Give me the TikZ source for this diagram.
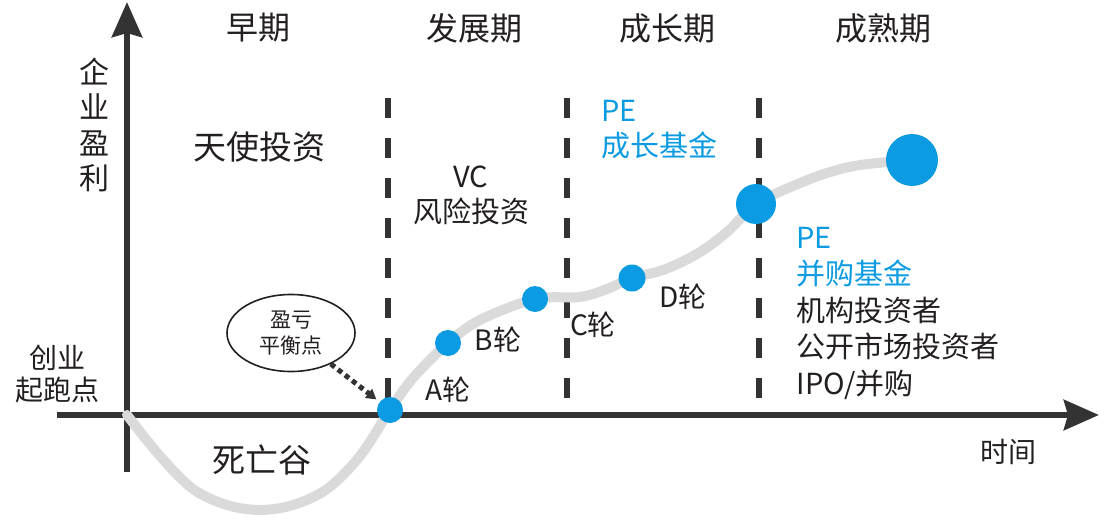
\documentclass[tikz,border=0pt]{standalone}
\usepackage{fontspec}
\setmainfont{Noto Sans CJK SC}
\usetikzlibrary{positioning, arrows.meta, shapes.geometric}

\definecolor{axisgray}{HTML}{333333}
\definecolor{curvegray}{HTML}{DADADA}
\definecolor{dotblue}{HTML}{0A9BE2}
\definecolor{inkblack}{HTML}{231F20}

\begin{document}
\begin{tikzpicture}[
    x=1pt, y=-1pt,
    axis/.style={-{Stealth[length=35pt, width=30pt, inset=4pt]}, line width=6.5pt, draw=axisgray},
    divider/.style={line width=6pt, draw=axisgray, dash pattern=on 20pt off 20pt, dash phase=24pt},
    curve/.style={line width=10pt, draw=curvegray, line cap=round},
    dot/.style={circle, fill=dotblue, inner sep=0pt, minimum size=26pt},
    stage/.style={font=\fontsize{32}{38}\selectfont, text=inkblack},
    txt/.style={font=\fontsize{29}{35}\selectfont, text=inkblack},
    bluetxt/.style={font=\fontsize{29}{35}\selectfont, text=dotblue},
    roundlbl/.style={font=\fontsize{28}{34}\selectfont, text=inkblack},
    note/.style={ellipse, draw=inkblack, line width=1.6pt, minimum width=128pt, minimum height=77pt, inner sep=0pt, align=center, font=\fontsize{21}{26}\selectfont, text=inkblack},
    pointer/.style={-{Triangle[length=10pt, width=11pt]}, line width=5pt, draw=axisgray, dash pattern=on 5pt off 4pt, shorten >=4pt}
]
    \useasboundingbox (0,0) rectangle (1107,524);

    % Axes
    \coordinate (xleft) at (57,415);
    \coordinate (xright) at (1099,415);
    \coordinate (ybot) at (127,472);
    \coordinate (ytop) at (127,2);

    % Stage dividers
    \foreach \x in {388, 567, 759}
        \draw[divider] (\x,82) -- (\x,412);

    \draw[axis] (xleft) -- (xright);
    \draw[axis] (ybot) -- (ytop);

    % Points on the curve
    \coordinate (start) at (127,415);
    \coordinate (pA) at (390,410);
    \coordinate (pB) at (448,343);
    \coordinate (pC) at (535,299);
    \coordinate (pD) at (632,278);
    \coordinate (pE) at (756,204);
    \coordinate (pF) at (912,160);

    % Growth curve
    \draw[curve] plot[smooth, tension=0.55] coordinates {
        (start) (160,456) (193,489) (227,505) (260,510) (293,505) (327,489) (360,456) (pA)
        (413,378) (pB) (480,320) (pC) (580,297) (607,289) (pD)
        (663,270) (697,254) (727,232) (pE) (793,186) (827,173) (860,165) (pF)};

    \node[dot] (dotA) at (pA) {};
    \node[dot] (dotB) at (pB) {};
    \node[dot] (dotC) at (pC) {};
    \node[dot, minimum size=27pt] (dotD) at (pD) {};
    \node[dot, minimum size=40pt] (dotE) at (pE) {};
    \node[dot, minimum size=52pt] (dotF) at (pF) {};

    % Stages
    \node[stage] (early) at (258,28) {早期};
    \node[stage] (dev) at (474,28) {发展期};
    \node[stage] (growth) at (667,28) {成长期};
    \node[stage] (mature) at (883,28) {成熟期};

    % Axis labels
    \node[txt, align=center, font=\fontsize{30}{35.5}\selectfont] (profit) at (94,125) {企\\业\\盈\\利};
    \node[txt, align=center, font=\fontsize{28}{32}\selectfont] (startup) at (57,374) {创业\\起跑点};
    \node[txt, font=\fontsize{28}{34}\selectfont] (time) at (1008,452) {时间};

    % Investors
    \node[stage, font=\fontsize{33}{38}\selectfont] (angel) at (259,147) {天使投资};
    \node[txt, align=center] (vc) at (471,195) {VC\\风险投资};
    \node[bluetxt, align=left, anchor=west] (pegrowth) at (598,130) {PE\\成长基金};
    \node[txt, align=left, anchor=west, font=\fontsize{29}{36.5}\selectfont] (later) at (793,313)
        {\textcolor{dotblue}{PE}\\\textcolor{dotblue}{并购基金}\\机构投资者\\公开市场投资者\\IPO/并购};

    % Rounds
    \node[roundlbl] (rA) at (448,390) {A轮};
    \node[roundlbl] (rB) at (498,340) {B轮};
    \node[roundlbl] (rC) at (593,325) {C轮};
    \node[roundlbl] (rD) at (683,297) {D轮};

    % Valley and break-even
    \node[stage, font=\fontsize{33}{38}\selectfont] (valley) at (262,460) {死亡谷};
    \node[note] (bep) at (291,333) {盈亏\\平衡点};
    \draw[pointer] (bep) -- (dotA);

\end{tikzpicture}
\end{document}
